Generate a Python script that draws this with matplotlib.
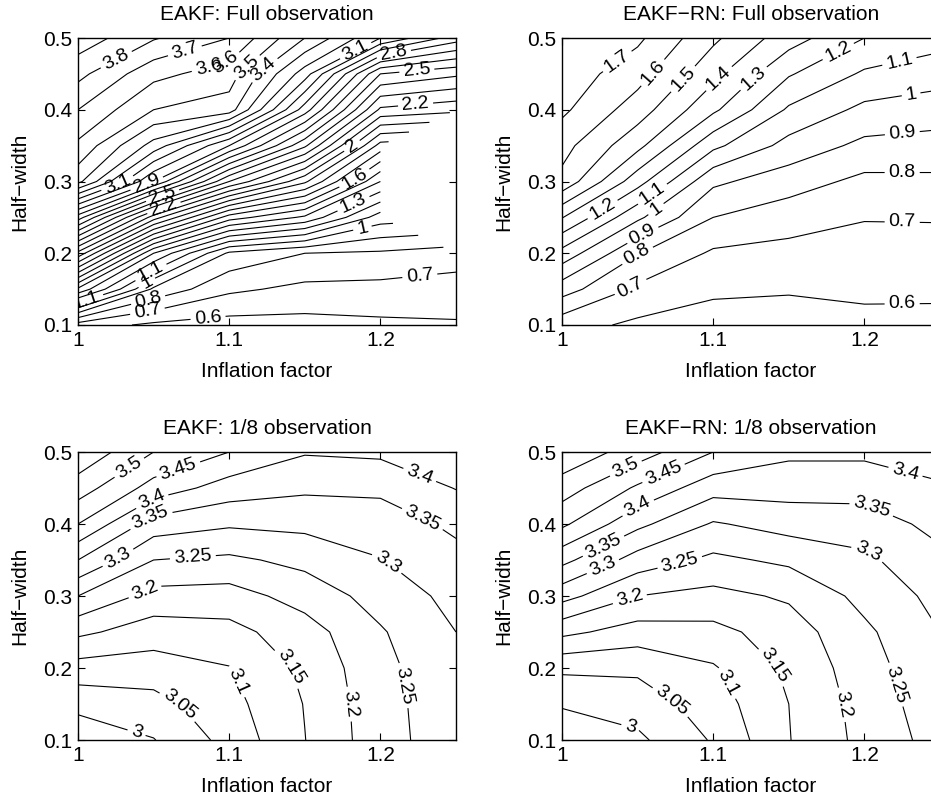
import numpy as np
import matplotlib
matplotlib.use("Agg")
from matplotlib import pyplot as plt

plt.rcParams['font.family'] = ['Liberation Sans', 'DejaVu Sans']

# grid of the experiments
inflation = [1.0, 1.05, 1.1, 1.15, 1.2, 1.25]
half_width = [0.1, 0.15, 0.2, 0.25, 0.3, 0.35, 0.4, 0.45, 0.5]

# RMS error, one row per half-width (bottom to top), one column per inflation factor
eakf_full = [
    [0.65, 0.58, 0.56, 0.565, 0.58, 0.59],
    [1.38, 0.88, 0.72, 0.675, 0.67, 0.655],
    [2.07, 1.30, 0.88, 0.80, 0.785, 0.75],
    [2.75, 2.05, 1.55, 1.38, 1.05, np.nan],
    [3.43, 2.90, 2.30, 1.92, 1.40, np.nan],
    [3.58, 3.26, 2.90, 2.42, 1.76, np.nan],
    [3.70, 3.50, 3.45, 2.85, 2.18, 2.13],
    [3.83, 3.63, 3.55, 3.15, 2.50, 2.42],
    [3.96, 3.81, 3.70, 3.40, 3.10, 2.85],
]
eakf_rn_full = [
    [0.64, 0.58, 0.55, 0.55, 0.575, 0.57],
    [0.845, 0.68, 0.62, 0.61, 0.618, 0.62],
    [1.065, 0.805, 0.685, 0.668, 0.662, 0.66],
    [1.305, 1.02, 0.80, 0.745, 0.705, 0.707],
    [1.573, 1.24, 0.92, 0.845, 0.775, 0.78],
    [1.635, 1.43, 1.125, 0.965, 0.875, 0.86],
    [1.72, 1.55, 1.32, 1.085, 0.975, 0.95],
    [1.76, 1.64, 1.43, 1.21, 1.085, 1.04],
    [1.79, 1.72, 1.52, 1.345, 1.20, 1.14],
]
eakf_eighth = [
    [2.96, 2.998, 3.067, 3.149, 3.23, 3.28],
    [3.017, 3.033, 3.083, 3.152, 3.232, 3.282],
    [3.079, 3.076, 3.098, 3.161, 3.236, 3.287],
    [3.161, 3.125, 3.134, 3.178, 3.245, 3.30],
    [3.25, 3.182, 3.179, 3.22, 3.27, 3.315],
    [3.35, 3.25, 3.24, 3.264, 3.298, 3.335],
    [3.45, 3.327, 3.307, 3.313, 3.325, 3.36],
    [3.525, 3.43, 3.377, 3.359, 3.36, 3.402],
    [3.59, 3.50, 3.45, 3.404, 3.41, 3.43],
]
eakf_rn_eighth = [
    [2.957, 2.99, 3.055, 3.148, 3.215, 3.27],
    [3.006, 3.023, 3.075, 3.15, 3.22, 3.28],
    [3.06, 3.06, 3.095, 3.16, 3.228, 3.29],
    [3.163, 3.128, 3.135, 3.175, 3.24, 3.30],
    [3.268, 3.20, 3.185, 3.207, 3.265, 3.315],
    [3.365, 3.278, 3.239, 3.26, 3.29, 3.338],
    [3.46, 3.363, 3.295, 3.32, 3.325, 3.365],
    [3.525, 3.442, 3.37, 3.37, 3.37, 3.395],
    [3.59, 3.525, 3.45, 3.41, 3.41, 3.42],
]

levels_full = [0.6, 0.7, 0.8, 0.9, 1.0, 1.1, 1.2, 1.3, 1.4, 1.5, 1.6, 1.7, 1.8,
               1.9, 2.0, 2.1, 2.2, 2.3, 2.4, 2.5, 2.6, 2.7, 2.8, 2.9, 3.0, 3.1,
               3.2, 3.3, 3.4, 3.5, 3.6, 3.7, 3.8, 3.9]
levels_rn_full = [0.6, 0.7, 0.8, 0.9, 1.0, 1.1, 1.2, 1.3, 1.4, 1.5, 1.6, 1.7]
levels_eighth = [3.0, 3.05, 3.1, 3.15, 3.2, 3.25, 3.3, 3.35, 3.4, 3.45, 3.5, 3.55]

titles = ['EAKF: Full observation', 'EAKF\u2212RN: Full observation',
          'EAKF: 1/8 observation', 'EAKF\u2212RN: 1/8 observation']

# where the inline labels sit (approximate spots)
label_spots = [
    [(1.023, 0.479), (1.07, 0.487), (1.085, 0.472), (1.096, 0.456), (1.113, 0.456),
     (1.125, 0.45), (1.183, 0.485), (1.209, 0.476), (1.224, 0.457), (1.223, 0.414),
     (1.182, 0.347), (1.182, 0.307), (1.182, 0.27), (1.188, 0.236), (1.226, 0.17),
     (1.086, 0.11), (1.026, 0.298), (1.046, 0.294), (1.056, 0.28), (1.057, 0.262),
     (1.047, 0.178), (1.046, 0.157), (1.046, 0.138), (1.046, 0.118), (1.006, 0.132)],
    [(1.036, 0.469), (1.061, 0.45), (1.081, 0.441), (1.104, 0.443), (1.127, 0.443),
     (1.183, 0.48), (1.223, 0.469), (1.231, 0.42), (1.225, 0.369), (1.225, 0.318),
     (1.225, 0.243), (1.225, 0.125), (1.026, 0.264), (1.059, 0.285), (1.062, 0.262),
     (1.053, 0.227), (1.049, 0.2), (1.045, 0.154)],
    [(1.034, 0.478), (1.066, 0.478), (1.048, 0.436), (1.048, 0.408), (1.027, 0.351),
     (1.076, 0.353), (1.044, 0.308), (1.226, 0.468), (1.226, 0.399), (1.203, 0.342),
     (1.219, 0.177), (1.183, 0.151), (1.141, 0.202), (1.108, 0.184), (1.068, 0.151),
     (1.039, 0.112)],
    [(1.042, 0.478), (1.067, 0.471), (1.05, 0.424), (1.027, 0.371), (1.027, 0.341),
     (1.078, 0.346), (1.045, 0.295), (1.227, 0.471), (1.206, 0.429), (1.202, 0.36),
     (1.221, 0.177), (1.185, 0.149), (1.141, 0.204), (1.113, 0.183), (1.073, 0.156),
     (1.045, 0.116)],
]

fig = plt.figure(figsize=(9.31, 8.01), dpi=100)
W, H = 931.0, 801.0
# axes boxes in pixels: left, top, width, height
boxes = [(78, 38, 378, 287), (562, 38, 378, 287), (78, 452, 378, 288), (562, 452, 378, 288)]
data = [eakf_full, eakf_rn_full, eakf_eighth, eakf_rn_eighth]
levels = [levels_full, levels_rn_full, levels_eighth, levels_eighth]

X, Y = np.meshgrid(inflation, half_width)
for k in range(4):
    l, t, w, h = boxes[k]
    ax = fig.add_axes([l / W, 1 - (t + h) / H, w / W, h / H])
    Z = np.ma.masked_invalid(np.array(data[k], dtype=float))
    cs = ax.contour(X, Y, Z, levels=levels[k], colors='black', linewidths=0.8)
    ax.clabel(cs, fmt=lambda v: f'{v:g}', fontsize=14, inline=True,
              inline_spacing=4, manual=label_spots[k])
    ax.set_xlim(1, 1.25)
    ax.set_ylim(0.1, 0.5)
    ax.set_xticks([1, 1.1, 1.2])
    ax.set_xticklabels(['1', '1.1', '1.2'])
    ax.set_yticks([0.1, 0.2, 0.3, 0.4, 0.5])
    ax.set_yticklabels(['0.1', '0.2', '0.3', '0.4', '0.5'])
    ax.tick_params(direction='in', top=True, right=True, length=5, width=0.8,
                   labelsize=15, pad=4)
    for s in ax.spines.values():
        s.set_linewidth(1.0)
    ax.set_title(titles[k], fontsize=15, pad=13)
    ax.set_xlabel('Inflation factor', fontsize=15, labelpad=9)
    ax.set_ylabel('Half\u2212width', fontsize=15, labelpad=10)

fig.savefig('out.png', dpi=100)
